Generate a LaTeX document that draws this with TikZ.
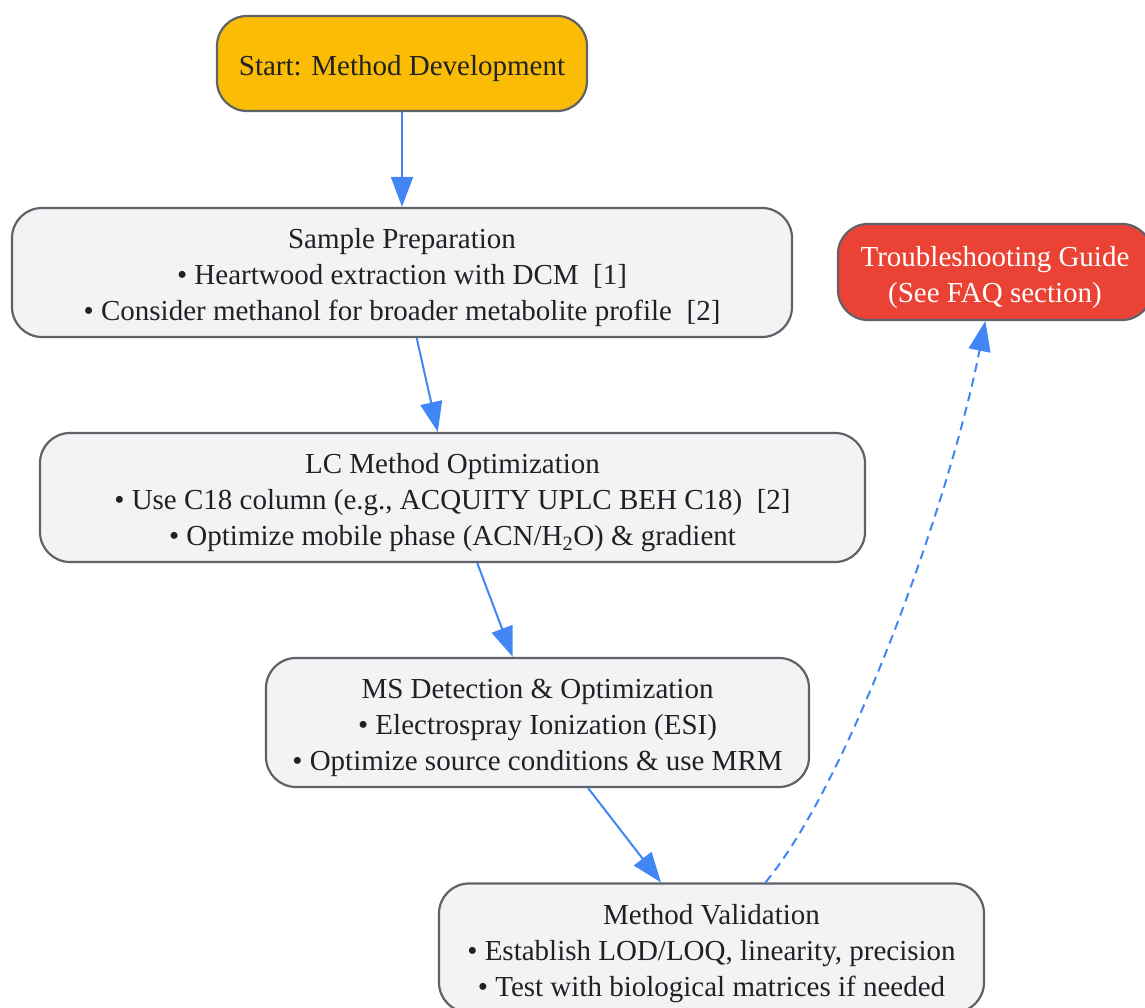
\documentclass[tikz,border=0pt]{standalone}
\usepackage{fontspec}
\setmainfont{Liberation Serif}
\usetikzlibrary{arrows.meta}
\definecolor{edgeblue}{HTML}{4285F4}
\definecolor{boxgray}{HTML}{F1F3F4}
\definecolor{boxline}{HTML}{5F6368}
\definecolor{startyellow}{HTML}{FBBC05}
\definecolor{troublered}{HTML}{EA4335}
\definecolor{textdark}{HTML}{202124}
\newcommand{\topstrut}{\rule{0pt}{33bp}}
\newcommand{\bottomstrut}{\rule[-8.2bp]{0pt}{8.2bp}}
\begin{document}
\begin{tikzpicture}[>={Triangle[length=30bp,width=22bp]},line join=bevel,
  flowbox/.style={draw=boxline,line width=2.2bp,rounded corners=30bp,inner sep=0pt,
    align=center,text=textdark,font=\fontsize{29bp}{36bp}\selectfont},
  flowedge/.style={edgeblue,line width=2bp,->},
  ]
%%
\clip (0bp,0bp) rectangle (1145bp,1008bp);
\node (node_start) at (402.0bp,944.5bp) [flowbox,fill=startyellow,minimum width=370bp,minimum height=95bp] {\topstrut Start: Method Development\bottomstrut};
  \node (node_prep) at (402.0bp,735.5bp) [flowbox,fill=boxgray,minimum width=780bp,minimum height=129bp] {\topstrut Sample Preparation\\ • Heartwood extraction with DCM\ \ [1]\\ • Consider methanol for broader metabolite profile\ \ [2]\bottomstrut};
  \node (node_trouble) at (995.0bp,736.0bp) [flowbox,fill=troublered,text=white,minimum width=314bp,minimum height=96bp] {\topstrut Troubleshooting Guide\\ (See FAQ section)\bottomstrut};
  \node (node_lc) at (452.5bp,510.5bp) [flowbox,fill=boxgray,minimum width=825bp,minimum height=129bp] {\topstrut LC Method Optimization\\ • Use C18 column (e.g., ACQUITY UPLC BEH C18)\ \ [2]\\ • Optimize mobile phase (ACN/H\textsubscript{2}O) \& gradient\bottomstrut};
  \node (node_ms) at (537.5bp,285.5bp) [flowbox,fill=boxgray,minimum width=543bp,minimum height=129bp] {\topstrut MS Detection \& Optimization\\ • Electrospray Ionization (ESI)\\ • Optimize source conditions \& use MRM\bottomstrut};
  \node (node_valid) at (711.5bp,60.0bp) [flowbox,fill=boxgray,minimum width=545bp,minimum height=129bp] {\topstrut Method Validation\\ • Establish LOD/LOQ, linearity, precision\\ • Test with biological matrices if needed\bottomstrut};
%
  \draw [flowedge] (node_start) -- (node_prep);
  \draw [flowedge] (node_prep) -- (node_lc);
  \draw [flowedge] (node_lc) -- (node_ms);
  \draw [flowedge] (node_ms) -- (node_valid);
  \draw [flowedge,dash pattern=on 9bp off 6bp] (node_valid) .. controls (850.0bp,228.0bp) and (950.0bp,508.0bp) .. (node_trouble);
%
\end{tikzpicture}
\end{document}
